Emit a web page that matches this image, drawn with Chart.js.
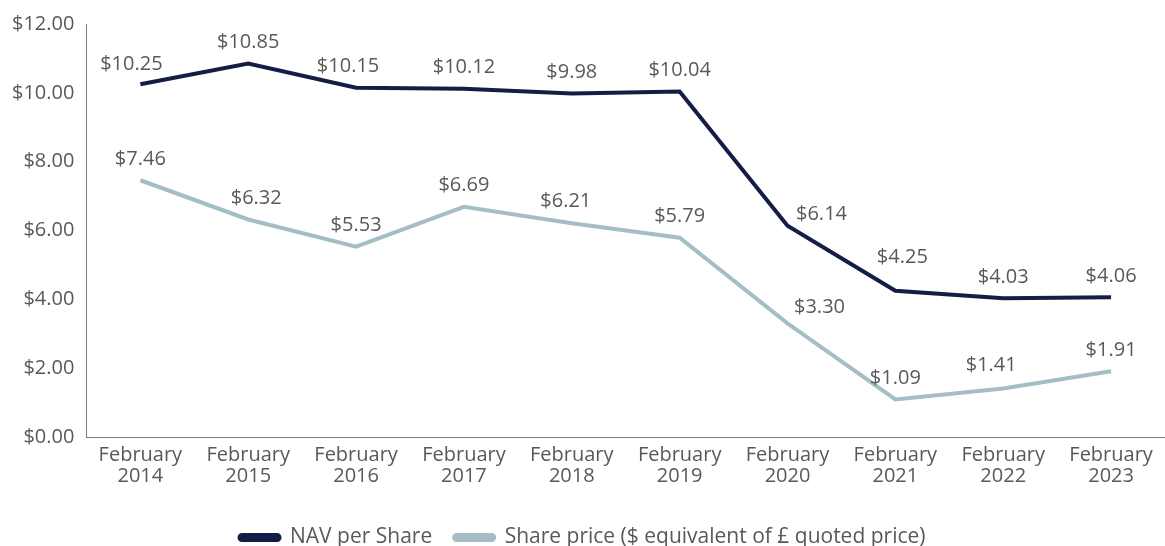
<!DOCTYPE html>
<html>
<head>
<meta charset="utf-8">
<script src="https://cdn.jsdelivr.net/npm/chart.js@4.4.0/dist/chart.umd.min.js"></script>
<style>
  html, body { margin: 0; padding: 0; background: #fff; overflow: hidden; }
  #wrap { width: 1165px; height: 558px; position: relative; }
</style>
</head>
<body>
<div id="wrap"><canvas id="navChart"></canvas></div>
<script>
const years = ['2014','2015','2016','2017','2018','2019','2020','2021','2022','2023'];
const categories = years.map(y => ['February', y]);
const navPerShare = [10.25, 10.85, 10.15, 10.12, 9.98, 10.04, 6.14, 4.25, 4.03, 4.06];
const sharePrice = [7.46, 6.32, 5.53, 6.69, 6.21, 5.79, 3.30, 1.09, 1.41, 1.91];
const seriesNames = ['NAV per Share', 'Share price ($ equivalent of \u00a3 quoted price)'];
const seriesColors = ['#141d45', '#a5bec6'];

const FONT = "'Open Sans', 'Liberation Sans', Arial, sans-serif";
const TEXT_COLOR = '#595959';
const FONT_SIZE = 20;

// label placement tweaks (dataset -> index -> [dx, dy]), default is centred 20px above
const labelNudge = {
  0: { 0: [-9, -20], 2: [-8, -21], 6: [34, -11], 7: [7, -33] },
  1: { 1: [8, -21], 4: [-6, -22], 6: [32, -16], 8: [-12, -23] }
};

const pointLabels = {
  id: 'pointLabels',
  afterDatasetsDraw(chart) {
    const { ctx } = chart;
    ctx.save();
    ctx.textAlign = 'center';
    ctx.textBaseline = 'middle';
    ctx.fillStyle = TEXT_COLOR;
    ctx.font = FONT_SIZE + 'px ' + FONT;
    chart.data.datasets.forEach((ds, i) => {
      const meta = chart.getDatasetMeta(i);
      meta.data.forEach((pt, j) => {
        const [dx, dy] = (labelNudge[i] && labelNudge[i][j]) || [0, -21];
        ctx.fillText('$' + ds.data[j].toFixed(2), pt.x + dx, pt.y + dy);
      });
    });
    ctx.restore();
  }
};

new Chart(document.getElementById('navChart'), {
  type: 'line',
  data: {
    labels: categories,
    datasets: [
      {
        label: seriesNames[0],
        data: navPerShare,
        borderColor: seriesColors[0],
        backgroundColor: seriesColors[0],
        borderWidth: 4,
        pointRadius: 0,
        tension: 0
      },
      {
        label: seriesNames[1],
        data: sharePrice,
        borderColor: seriesColors[1],
        backgroundColor: seriesColors[1],
        borderWidth: 4,
        pointRadius: 0,
        tension: 0
      }
    ]
  },
  options: {
    responsive: true,
    maintainAspectRatio: false,
    animation: false,
    layout: { padding: { top: 6, left: 0, right: 0, bottom: 0 } },
    scales: {
      x: {
        offset: true,
        grid: { display: false, drawTicks: false },
        border: { display: true, color: '#7f7f7f', width: 1 },
        ticks: {
          color: TEXT_COLOR,
          font: { size: FONT_SIZE, family: FONT, lineHeight: 1.05 },
          padding: 8,
          maxRotation: 0,
          autoSkip: false
        },
        afterFit(scale) { scale.height += 10; }
      },
      y: {
        min: 0,
        max: 12,
        grid: { display: false, drawTicks: false },
        border: { display: true, color: '#7f7f7f', width: 1 },
        ticks: {
          stepSize: 2,
          color: TEXT_COLOR,
          font: { size: FONT_SIZE, family: FONT },
          padding: 12,
          callback: v => '$' + Number(v).toFixed(2)
        }
      }
    },
    plugins: {
      legend: {
        position: 'bottom',
        labels: {
          color: TEXT_COLOR,
          font: { size: 21, family: FONT },
          boxWidth: 40,
          boxHeight: 5,
          useBorderRadius: true,
          borderRadius: 2.5,
          padding: 22
        }
      },
      tooltip: { enabled: false }
    }
  },
  plugins: [pointLabels]
});
</script>
</body>
</html>
